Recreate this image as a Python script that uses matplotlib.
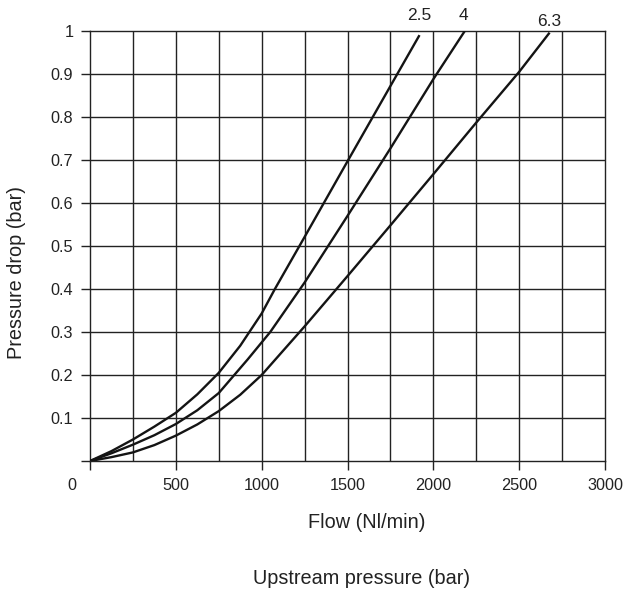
import matplotlib
matplotlib.use("Agg")
import matplotlib.pyplot as plt
from matplotlib.transforms import ScaledTranslation
import numpy as np

plt.rcParams['font.family'] = ['Liberation Sans', 'DejaVu Sans']

# curvas (caudal Nl/min, caida de presion bar)
flow_25 = [0, 125, 250, 375, 500, 625, 750, 875, 1000, 1077, 1250, 1500, 1750, 1916]
drop_25 = [0, 0.023, 0.05, 0.08, 0.112, 0.155, 0.205, 0.268, 0.343, 0.4, 0.521, 0.697, 0.872, 0.988]

flow_4 = [0, 125, 250, 375, 500, 625, 750, 918, 1050, 1250, 1500, 1750, 2000, 2180]
drop_4 = [0, 0.018, 0.038, 0.06, 0.086, 0.118, 0.158, 0.236, 0.3, 0.415, 0.57, 0.727, 0.888, 0.998]

flow_63 = [0, 125, 250, 375, 500, 625, 750, 875, 1000, 1250, 1500, 1750, 2000, 2250, 2500, 2673]
drop_63 = [0, 0.009, 0.02, 0.037, 0.059, 0.085, 0.116, 0.154, 0.2, 0.313, 0.43, 0.548, 0.667, 0.787, 0.905, 0.994]

curve_labels = ['2.5', '4', '6.3']
label_x = [1920, 2173, 2674]
label_y = [1.035, 1.035, 1.023]

x_ticks = [0, 500, 1000, 1500, 2000, 2500, 3000]
y_ticks = [0.1, 0.2, 0.3, 0.4, 0.5, 0.6, 0.7, 0.8, 0.9, 1.0]
y_tick_labels = ['0.1', '0.2', '0.3', '0.4', '0.5', '0.6', '0.7', '0.8', '0.9', '1']

fig = plt.figure(figsize=(6.31, 5.90), dpi=100)
ax = fig.add_axes([90 / 631, 1 - 461 / 590, 515 / 631, 430 / 590])

grid_col = '#222222'
for gx in np.arange(250, 3000, 250):
    ax.axvline(gx, color=grid_col, linewidth=1.0, zorder=1)
for gy in np.arange(0.1, 1.0, 0.1):
    ax.axhline(gy, color=grid_col, linewidth=1.0, zorder=1)

for fx, dy in [(flow_25, drop_25), (flow_4, drop_4), (flow_63, drop_63)]:
    ax.plot(fx, dy, color='#141414', linewidth=1.7, zorder=3, solid_joinstyle='round')

for lab, lx, ly in zip(curve_labels, label_x, label_y):
    ax.text(lx, ly, lab, ha='center', va='center', fontsize=12.5, color='#222222', clip_on=False)

ax.set_xlim(0, 3000)
ax.set_ylim(0, 1)
ax.set_xticks(x_ticks)
ax.set_yticks([0] + y_ticks)
ax.set_yticklabels([''] + y_tick_labels)
ax.tick_params(axis='both', direction='out', length=6.5, width=1.0, color=grid_col,
               labelsize=11.7, labelcolor='#222222', pad=5.5)
for sp in ax.spines.values():
    sp.set_color(grid_col)
    sp.set_linewidth(1.0)

# el "0" del eje x va corrido a la izquierda
fig.canvas.draw()
zero_lab = ax.get_xticklabels()[0]
zero_lab.set_transform(zero_lab.get_transform() + ScaledTranslation(-0.18, 0, fig.dpi_scale_trans))

fig.text(367 / 631, 1 - 522 / 590, 'Flow (Nl/min)', ha='center', va='center', fontsize=14.3, color='#222222')
fig.text(362 / 631, 1 - 578 / 590, 'Upstream pressure (bar)', ha='center', va='center', fontsize=14.3, color='#222222')
fig.text(17 / 631, 1 - 273 / 590, 'Pressure drop (bar)', ha='center', va='center', rotation=90,
         fontsize=14.3, color='#222222')

fig.savefig('out.png', dpi=100)
